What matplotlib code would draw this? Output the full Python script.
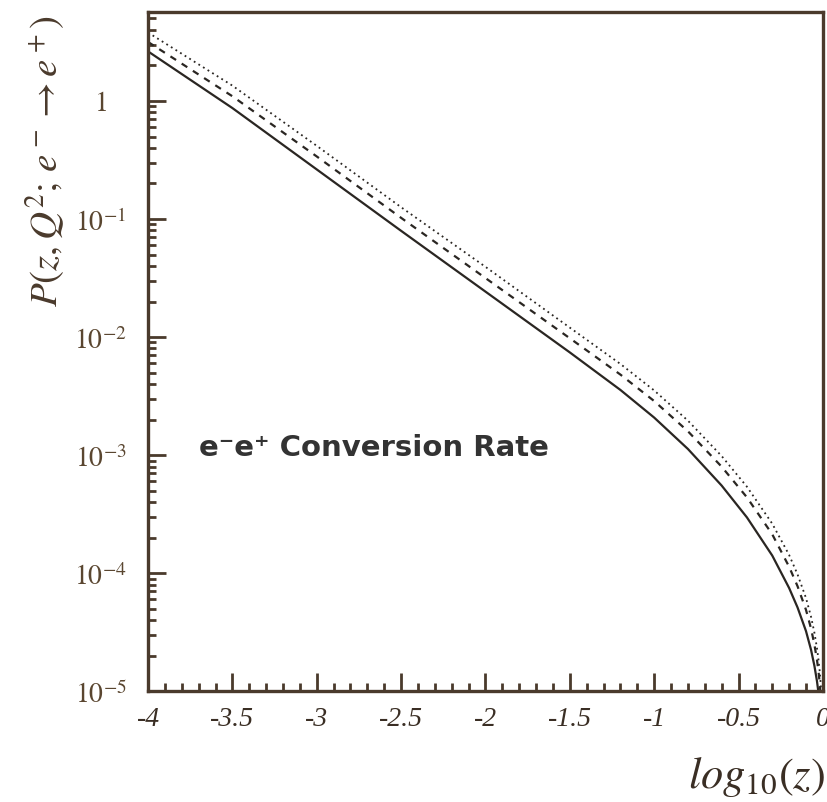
# -*- coding: utf-8 -*-

import numpy as np
import matplotlib
matplotlib.use('Agg')
from matplotlib import pyplot as plt
from matplotlib.ticker import LogLocator, MultipleLocator, FixedLocator

# valores (x = log10(z), curvas em log10(P))
log_z = [-4.0, -3.5, -3.0, -2.5, -2.0, -1.5, -1.2, -1.0, -0.8, -0.6, -0.45,
         -0.3, -0.2, -0.15, -0.1, -0.07, -0.05, -0.035, -0.025, -0.018,
         -0.012, -0.008, -0.005]
logP_solid = [0.42, -0.06, -0.58, -1.10, -1.615, -2.13, -2.448, -2.682, -2.948, -3.258,
              -3.528, -3.851, -4.126, -4.291, -4.491, -4.650, -4.786, -4.914, -5.024,
              -5.122, -5.236, -5.336, -5.45]
logP_dashed = [0.50, 0.04, -0.47, -0.99, -1.50, -2.01, -2.318, -2.542, -2.798, -3.098,
               -3.358, -3.671, -3.946, -4.111, -4.311, -4.470, -4.606, -4.734, -4.844,
               -4.942, -5.056, -5.156, -5.27]
logP_dotted = [0.58, 0.13, -0.38, -0.90, -1.405, -1.92, -2.228, -2.452, -2.708, -3.008,
               -3.268, -3.581, -3.846, -4.011, -4.211, -4.370, -4.506, -4.634, -4.744,
               -4.842, -4.956, -5.056, -5.17]

xticks = [-4, -3.5, -3, -2.5, -2, -1.5, -1, -0.5, 0]
xtick_labels = ['-4', '-3.5', '-3', '-2.5', '-2', '-1.5', '-1', '-0.5', '0']
yticks = [1e-5, 1e-4, 1e-3, 1e-2, 1e-1, 1]
ytick_labels = [r'$\mathit{10^{-5}}$', r'$\mathit{10^{-4}}$', r'$\mathit{10^{-3}}$',
                r'$\mathit{10^{-2}}$', r'$\mathit{10^{-1}}$', r'$\mathit{1}$']

plt.rcParams['mathtext.fontset'] = 'stix'
plt.rcParams['font.family'] = 'Liberation Serif'

brown = '#4a3a2c'
ink = '#2a2622'

fig = plt.figure(figsize=(8.27, 8.03), dpi=100)
ax = fig.add_axes([0.179, 0.138, 0.816, 0.846])

ax.plot(log_z, 10 ** np.array(logP_solid), color=ink, lw=1.6, ls='-')
ax.plot(log_z, 10 ** np.array(logP_dashed), color=ink, lw=1.6, ls=(0, (3, 3)))
ax.plot(log_z, 10 ** np.array(logP_dotted), color=ink, lw=1.3, ls=(0, (1, 2)))

ax.set_yscale('log')
ax.set_xlim(-4, 0)
ax.set_ylim(1e-5, 10 ** 0.755)

ax.xaxis.set_major_locator(FixedLocator(xticks))
ax.set_xticklabels(xtick_labels)
ax.xaxis.set_minor_locator(MultipleLocator(0.1))
ax.yaxis.set_major_locator(FixedLocator(yticks))
ax.set_yticklabels(ytick_labels)
ax.yaxis.set_minor_locator(LogLocator(base=10, subs=np.arange(2, 10)))

for s in ax.spines.values():
    s.set_color(brown)
    s.set_linewidth(2.4)

ax.tick_params(axis='both', which='both', direction='in', color=brown,
               top=False, right=False)
ax.tick_params(axis='both', which='major', length=13, width=2)
ax.tick_params(axis='both', which='minor', length=6, width=2)
ax.tick_params(axis='x', which='major', pad=11, labelsize=20, labelcolor='#3a2e24')
ax.tick_params(axis='y', which='major', pad=34, labelsize=20, labelcolor='#5a4630')
for lab in ax.get_yticklabels():
    lab.set_horizontalalignment('center')
for lab in ax.get_xticklabels():
    lab.set_style('italic')

ax.text(-3.7, 10 ** -2.93, 'e\u207be\u207a Conversion Rate', fontsize=21,
        fontweight='bold', family='DejaVu Sans', color='#333333',
        ha='left', va='center')

fig.text(0.055, 0.80, r'$P(z,Q^2;\, e^- \rightarrow e^+)$', rotation=90,
         fontsize=28, color='#4a3a2c', ha='center', va='center')
fig.text(0.998, 0.005, r'$log_{10}(z)$', fontsize=32, color='#3a2e24',
         ha='right', va='bottom')

fig.savefig('out.png', dpi=100)
